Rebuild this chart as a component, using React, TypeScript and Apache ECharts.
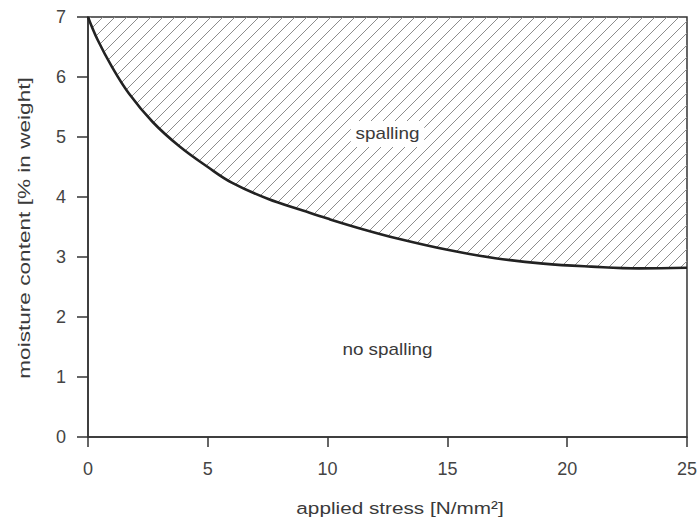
import React, { useEffect, useRef } from "react";
import * as echarts from "echarts";

// Threshold curve: applied stress [N/mm²] vs moisture content [% in weight]
const stress = [0, 0.4, 1, 1.7, 2.7, 3.8, 5, 6, 7.5, 9, 10, 11.5, 13, 15, 17, 19, 21, 23, 25];
const moisture = [7, 6.62, 6.17, 5.73, 5.25, 4.85, 4.5, 4.24, 3.97, 3.77, 3.64, 3.46, 3.3, 3.12, 2.98, 2.89, 2.84, 2.81, 2.82];

const xTicks = [0, 5, 10, 15, 20, 25];
const yTicks = [0, 1, 2, 3, 4, 5, 6, 7];

const xName = "applied stress [N/mm²]";
const yName = "moisture content [% in weight]";

// Region labels, anchored in data coordinates
const regionLabels = [
  { name: "spalling", x: 12.5, y: 5.05, boxed: true },
  { name: "no spalling", x: 12.5, y: 1.45, boxed: false },
];

function hatchTile(): HTMLCanvasElement {
  const size = 12;
  const c = document.createElement("canvas");
  c.width = size;
  c.height = size;
  const ctx = c.getContext("2d")!;
  ctx.strokeStyle = "#8c8c8c";
  ctx.lineWidth = 1;
  ctx.beginPath();
  ctx.moveTo(0, size);
  ctx.lineTo(size, 0);
  ctx.moveTo(-size / 2, size / 2);
  ctx.lineTo(size / 2, -size / 2);
  ctx.moveTo(size / 2, size * 1.5);
  ctx.lineTo(size * 1.5, size / 2);
  ctx.stroke();
  return c;
}

export default function App() {
  const ref = useRef<HTMLDivElement>(null);

  useEffect(() => {
    if (!ref.current) return;
    const chart = echarts.init(ref.current, null, { renderer: "svg" });
    const font = "'Liberation Sans', Arial, sans-serif";
    const axisColor = "#333";
    const textColor = "#3a3a3a";
    const tile = hatchTile();

    chart.setOption({
      animation: false,
      backgroundColor: "#fff",
      grid: {
        show: true,
        left: 88,
        right: 13,
        top: 17,
        bottom: 83,
        borderColor: axisColor,
        borderWidth: 1.5,
        backgroundColor: "transparent",
      },
      xAxis: {
        type: "value",
        min: xTicks[0],
        max: xTicks[xTicks.length - 1],
        interval: 5,
        axisLine: { show: true, lineStyle: { color: axisColor, width: 1.5 } },
        axisTick: { show: true, inside: false, length: 10, lineStyle: { color: axisColor, width: 1.5 } },
        axisLabel: { margin: 23, fontFamily: font, fontSize: 18, color: "#444" },
        splitLine: { show: false },
      },
      yAxis: {
        type: "value",
        min: yTicks[0],
        max: yTicks[yTicks.length - 1],
        interval: 1,
        axisLine: { show: true, lineStyle: { color: axisColor, width: 1.5 } },
        axisTick: { show: true, inside: false, length: 11, lineStyle: { color: axisColor, width: 1.5 } },
        axisLabel: { margin: 22, fontFamily: font, fontSize: 18, color: "#444" },
        splitLine: { show: false },
      },
      series: [
        {
          name: "threshold",
          type: "line",
          smooth: 0.4,
          symbol: "none",
          data: stress.map((s, i) => [s, moisture[i]]),
          lineStyle: { color: "#222", width: 2.6 },
          areaStyle: {
            origin: "end",
            opacity: 1,
            color: { image: tile, repeat: "repeat", imageWidth: 12, imageHeight: 12 },
          },
          z: 3,
        },
      ],
    });

    // Wide-set text for the axis titles and region labels
    const labelEls = regionLabels.map((r) => {
      const [px, py] = chart.convertToPixel({ gridIndex: 0 }, [r.x, r.y]) as number[];
      return {
        type: "text",
        x: px,
        y: py,
        scaleX: 1.18,
        z: 10,
        style: {
          text: r.name,
          fontFamily: font,
          fontSize: 16,
          fill: textColor,
          align: "center",
          verticalAlign: "middle",
          backgroundColor: r.boxed ? "#fff" : undefined,
          padding: r.boxed ? [5, 4] : 0,
        },
      };
    });

    chart.setOption({
      graphic: [
        {
          type: "text",
          x: 400,
          y: 508,
          scaleX: 1.22,
          style: {
            text: xName,
            fontFamily: font,
            fontSize: 17,
            fill: textColor,
            align: "center",
            verticalAlign: "middle",
          },
        },
        {
          type: "text",
          x: 24,
          y: 228,
          rotation: Math.PI / 2,
          scaleX: 1.33,
          style: {
            text: yName,
            fontFamily: font,
            fontSize: 17,
            fill: textColor,
            align: "center",
            verticalAlign: "middle",
          },
        },
        ...labelEls,
      ],
    });

    return () => chart.dispose();
  }, []);

  return (
    <div
      ref={ref}
      style={{ position: "absolute", left: 0, top: 0, width: 700, height: 520 }}
    />
  );
}
